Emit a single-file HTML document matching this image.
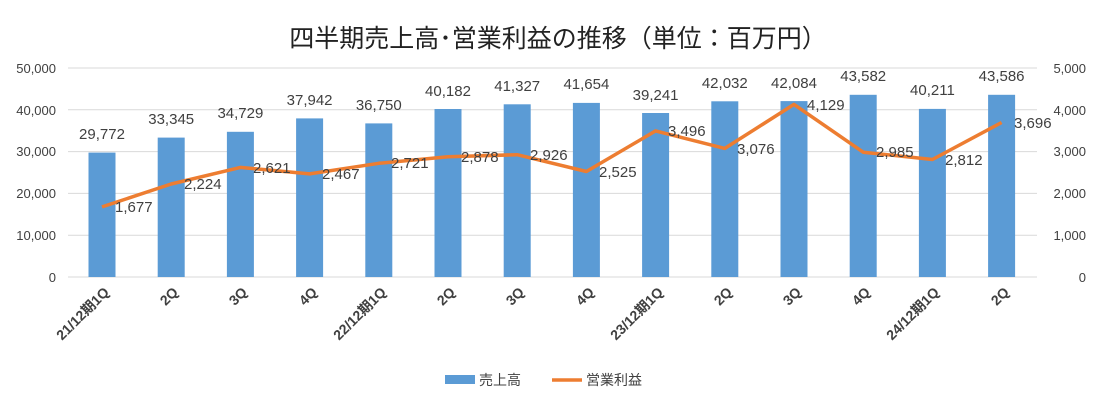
<!DOCTYPE html><html><head><meta charset="utf-8"><style>body{margin:0;background:#fff}svg{display:block}text{font-family:"Liberation Sans","Noto Sans CJK JP",sans-serif;fill:#404040}</style></head><body>
<svg width="1093" height="403" viewBox="0 0 1093 403">
<text x="558" y="47" font-size="25" text-anchor="middle" style="fill:#222;font-family:'Noto Sans CJK JP',sans-serif">四半期売上高･営業利益の推移（単位：百万円）</text>
<g stroke="#d9d9d9" stroke-width="1">
<line x1="68" x2="1037" y1="68" y2="68"/><line x1="68" x2="1037" y1="109.8" y2="109.8"/><line x1="68" x2="1037" y1="151.6" y2="151.6"/><line x1="68" x2="1037" y1="193.4" y2="193.4"/><line x1="68" x2="1037" y1="235.2" y2="235.2"/><line x1="68" x2="1037" y1="277" y2="277"/></g>
<g font-size="13" text-anchor="end">
<text x="56" y="73">50,000</text><text x="56" y="115">40,000</text><text x="56" y="156">30,000</text><text x="56" y="198">20,000</text><text x="56" y="240">10,000</text><text x="56" y="282">0</text></g>
<g font-size="13" text-anchor="end">
<text x="1086" y="73">5,000</text><text x="1086" y="115">4,000</text><text x="1086" y="156">3,000</text><text x="1086" y="198">2,000</text><text x="1086" y="240">1,000</text><text x="1086" y="282">0</text></g>
<g fill="#5b9bd5">
<rect x="88.5" y="152.6" width="27" height="124.4"/><rect x="157.7" y="137.6" width="27" height="139.4"/><rect x="226.9" y="131.8" width="27" height="145.2"/><rect x="296.1" y="118.4" width="27" height="158.6"/><rect x="365.3" y="123.4" width="27" height="153.6"/><rect x="434.5" y="109" width="27" height="168"/><rect x="503.7" y="104.3" width="27" height="172.7"/><rect x="572.9" y="102.9" width="27" height="174.1"/><rect x="642.1" y="113" width="27" height="164"/><rect x="711.3" y="101.3" width="27" height="175.7"/><rect x="780.5" y="101.1" width="27" height="175.9"/><rect x="849.7" y="94.8" width="27" height="182.2"/><rect x="918.9" y="108.9" width="27" height="168.1"/><rect x="988.1" y="94.8" width="27" height="182.2"/></g>
<g font-size="15" text-anchor="middle">
<text x="102" y="139">29,772</text><text x="171.2" y="124">33,345</text><text x="240.4" y="118">34,729</text><text x="309.6" y="105">37,942</text><text x="378.8" y="110">36,750</text><text x="448" y="96">40,182</text><text x="517.2" y="91">41,327</text><text x="586.4" y="89">41,654</text><text x="655.6" y="100">39,241</text><text x="724.8" y="88">42,032</text><text x="794" y="88">42,084</text><text x="863.2" y="81">43,582</text><text x="932.4" y="95">40,211</text><text x="1001.6" y="81">43,586</text></g>
<polyline fill="none" stroke="#ed7d31" stroke-width="3.5" stroke-linejoin="round" points="102,206.9 171.2,184 240.4,167.4 309.6,173.9 378.8,163.3 448,156.7 517.2,154.7 586.4,171.5 655.6,130.9 724.8,148.4 794,104.4 863.2,152.2 932.4,159.5 1001.6,122.5"/>
<g font-size="15">
<text x="115" y="212">1,677</text><text x="184" y="189">2,224</text><text x="253" y="173">2,621</text><text x="322" y="179">2,467</text><text x="391" y="168">2,721</text><text x="461" y="162">2,878</text><text x="530" y="160">2,926</text><text x="599" y="177">2,525</text><text x="668" y="136">3,496</text><text x="737" y="154">3,076</text><text x="807" y="110">4,129</text><text x="876" y="157">2,985</text><text x="945" y="165">2,812</text><text x="1014" y="128">3,696</text></g>
<g font-size="14" font-weight="bold" text-anchor="end">
<text transform="translate(110,293) rotate(-45)">21/12期1Q</text><text transform="translate(179,293) rotate(-45)">2Q</text><text transform="translate(248,293) rotate(-45)">3Q</text><text transform="translate(318,293) rotate(-45)">4Q</text><text transform="translate(387,293) rotate(-45)">22/12期1Q</text><text transform="translate(456,293) rotate(-45)">2Q</text><text transform="translate(525,293) rotate(-45)">3Q</text><text transform="translate(595,293) rotate(-45)">4Q</text><text transform="translate(664,293) rotate(-45)">23/12期1Q</text><text transform="translate(733,293) rotate(-45)">2Q</text><text transform="translate(802,293) rotate(-45)">3Q</text><text transform="translate(871,293) rotate(-45)">4Q</text><text transform="translate(940,293) rotate(-45)">24/12期1Q</text><text transform="translate(1010,293) rotate(-45)">2Q</text></g>
<rect x="445" y="375" width="30" height="9" fill="#5b9bd5"/><text x="479" y="385" font-size="14">売上高</text>
<line x1="552" x2="582" y1="380" y2="380" stroke="#ed7d31" stroke-width="3.5"/><text x="586" y="385" font-size="14">営業利益</text>
</svg></body></html>
